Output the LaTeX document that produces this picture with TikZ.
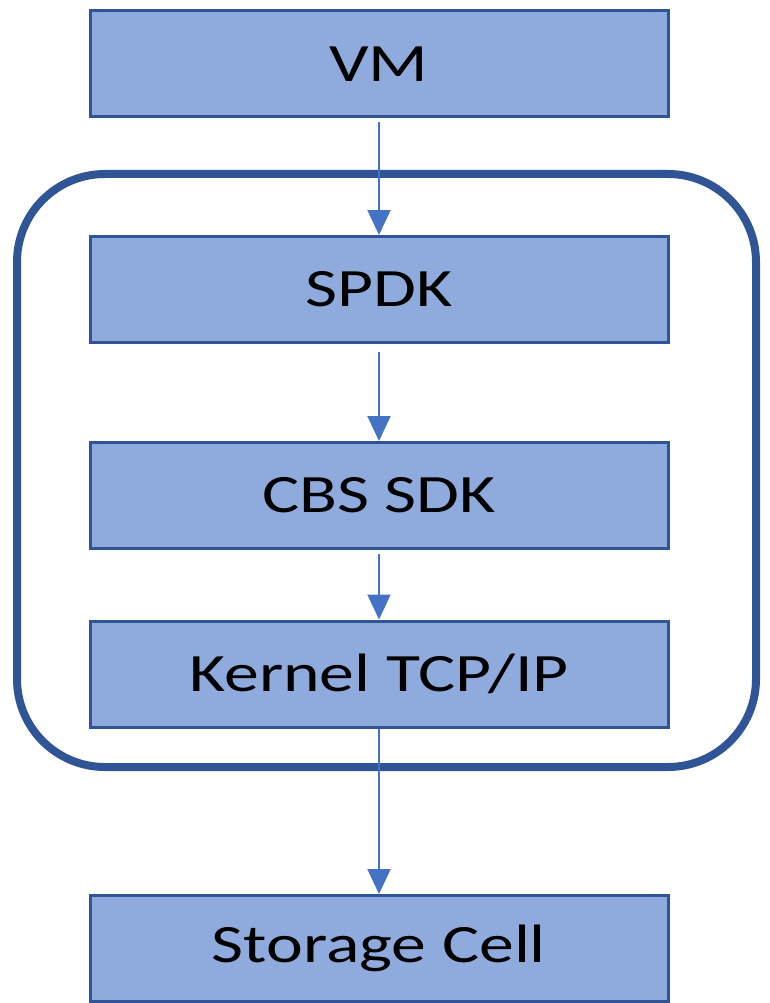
\documentclass[tikz,border=0pt]{standalone}
\usepackage{fontspec}
\setmainfont{Carlito}
\usetikzlibrary{arrows.meta}
\definecolor{boxfill}{HTML}{8FAADC}
\definecolor{boxline}{HTML}{2F5597}
\definecolor{arrowc}{HTML}{4472C4}
\tikzset{
  layerbox/.style={draw=boxline, line width=3pt, fill=boxfill, minimum width=578pt, minimum height=106pt, inner sep=0pt, text=black,
    font=\fontsize{54}{60}\selectfont},
  flow/.style={draw=arrowc, line width=2pt, -{Triangle[width=23pt,length=25pt]}},
  group/.style={draw=boxline, line width=8pt, rounded corners=88pt}
}
\newcommand{\wide}[1]{\scalebox{1.29}[1]{#1}}
\begin{document}
\begin{tikzpicture}[x=1pt,y=-1pt]
\useasboundingbox (0,0) rectangle (769,1003);
\draw[group] (17,174) rectangle (756,767);
\node[layerbox] (vm) at (379,64) {\wide{VM}};
\node[layerbox] (spdk) at (379,289.5) {\wide{SPDK}};
\node[layerbox] (cbs) at (379,495.5) {\wide{CBS SDK}};
\node[layerbox] (kern) at (379,674) {\wide{Kernel TCP/IP}};
\node[layerbox] (store) at (379,948.5) {\wide{Storage Cell}};
\draw[flow] ([yshift=-4pt]vm.south) -- (spdk.north);
\draw[flow] ([yshift=-8pt]spdk.south) -- (cbs.north);
\draw[flow] ([yshift=-4pt]cbs.south) -- (kern.north);
\draw[flow] (kern.south) -- (store.north);
\end{tikzpicture}
\end{document}
